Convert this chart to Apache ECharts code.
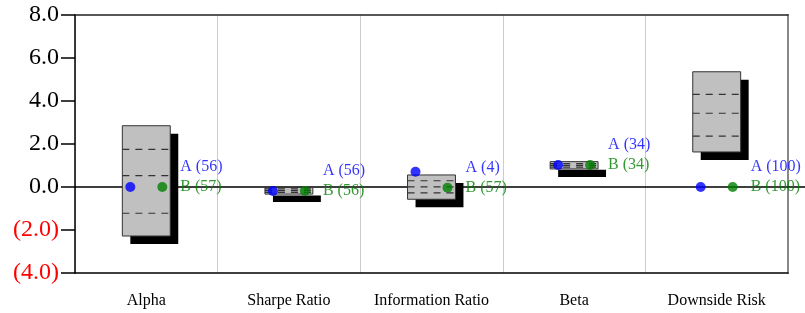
<!DOCTYPE html>
<html>
<head>
<meta charset="utf-8">
<script src="https://cdn.jsdelivr.net/npm/echarts@6/dist/echarts.min.js"></script>
<style>
  html, body { margin: 0; padding: 0; background: #fff; }
  #chart { width: 805px; height: 313px; }
</style>
</head>
<body>
<div id="chart"></div>
<script>
const categories = ['Alpha', 'Sharpe Ratio', 'Information Ratio', 'Beta', 'Downside Risk'];
// box: low, lower dash, middle dash, upper dash, high
const boxLow  = [-2.28, -0.33, -0.57, 0.84, 1.63];
const boxQ1   = [-1.22, -0.25, -0.27, 0.92, 2.37];
const boxMid  = [0.53, -0.17, 0.01, 1.01, 3.43];
const boxQ3   = [1.75, -0.09, 0.29, 1.09, 4.31];
const boxHigh = [2.85, -0.02, 0.56, 1.18, 5.36];
const pointA = [0.0, -0.19, 0.71, 1.02, 0.0];
const pointB = [0.0, -0.19, -0.03, 1.02, 0.0];
const countA = [56, 56, 4, 34, 100];
const countB = [57, 56, 57, 34, 100];
const yTicks = { min: -4, max: 8, interval: 2 };

const serif = 'Liberation Serif';
const chart = echarts.init(document.getElementById('chart'));

const boxData = categories.map((c, i) => [i, boxLow[i], boxQ1[i], boxMid[i], boxQ3[i], boxHigh[i]]);

function renderBox(params, api) {
  const c = api.value(0);
  const lo = api.coord([c, api.value(1)]);
  const hi = api.coord([c, api.value(5)]);
  const w = api.size([1, 0])[0] * 0.336;
  const x = lo[0] - w / 2;
  const top = hi[1], h = lo[1] - hi[1];
  const children = [
    {type: 'rect', shape: {x: x + 8, y: top + 8, width: w, height: h}, style: {fill: '#000'}},
    {type: 'rect', shape: {x: x, y: top, width: w, height: h}, style: {fill: '#c0c0c0', stroke: '#333', lineWidth: 1}}
  ];
  [2, 3, 4].forEach(k => {
    const y = api.coord([c, api.value(k)])[1];
    children.push({type: 'line', shape: {x1: x, y1: y, x2: x + w, y2: y},
      style: {stroke: '#333', lineWidth: 1.2, lineDash: [7, 6]}});
  });
  return {type: 'group', children};
}

chart.setOption({
  backgroundColor: '#fff',
  animation: false,
  grid: [
    {left: 75, right: 17, top: 15, bottom: 40},
    {left: 75, right: 0, top: 15, bottom: 40}
  ],
  xAxis: [
    {
      type: 'category', data: categories, gridIndex: 0, boundaryGap: true,
      axisLine: {onZero: false, lineStyle: {color: '#000', width: 1.5}},
      axisTick: {interval: 0, length: 14, lineStyle: {color: '#000', width: 1.5}},
      axisLabel: {interval: 0, margin: 20, fontFamily: serif, fontSize: 16, color: '#000'},
      splitLine: {show: true, interval: 0, lineStyle: {color: '#ccc', width: 1}}
    },
    {
      type: 'category', data: categories, gridIndex: 0, position: 'top',
      axisLine: {onZero: false, lineStyle: {color: '#222', width: 1.5}},
      axisTick: {show: false}, axisLabel: {show: false}, splitLine: {show: false}
    },
    {
      type: 'value', gridIndex: 1, min: 0, max: 1,
      axisLine: {onZero: true, lineStyle: {color: '#000', width: 1.5}},
      axisTick: {show: false}, axisLabel: {show: false}, splitLine: {show: false}
    }
  ],
  yAxis: [
    {
      type: 'value', gridIndex: 0, min: yTicks.min, max: yTicks.max, interval: yTicks.interval,
      axisLine: {show: true, lineStyle: {color: '#000', width: 1.5}},
      axisTick: {show: true, length: 14, lineStyle: {color: '#000', width: 1.5}},
      axisLabel: {
        margin: 16, fontFamily: serif, fontSize: 24,
        color: v => (Number(v) < 0 ? '#ff0000' : '#000'),
        formatter: v => (v < 0 ? '(' + Math.abs(v).toFixed(1) + ')' : v.toFixed(1))
      },
      splitLine: {show: false}
    },
    {
      type: 'value', gridIndex: 0, position: 'right', min: yTicks.min, max: yTicks.max,
      axisLine: {show: true, lineStyle: {color: '#888', width: 2}},
      axisTick: {show: false}, axisLabel: {show: false}, splitLine: {show: false}
    },
    {
      type: 'value', gridIndex: 1, min: yTicks.min, max: yTicks.max, show: false
    }
  ],
  series: [
    {
      type: 'custom', xAxisIndex: 0, yAxisIndex: 0, z: 2,
      renderItem: renderBox, data: boxData
    },
    {
      type: 'scatter', name: 'A', xAxisIndex: 0, yAxisIndex: 0, z: 3,
      data: pointA, symbolSize: 10, symbolOffset: [-16, 0],
      itemStyle: {color: '#0000ff'}
    },
    {
      type: 'scatter', name: 'B', xAxisIndex: 0, yAxisIndex: 0, z: 3,
      data: pointB, symbolSize: 10, symbolOffset: [16, 0],
      itemStyle: {color: '#008000'},
      label: {
        show: true, position: 'right', distance: 13, offset: [0, -10],
        formatter: p => '{a|A (' + countA[p.dataIndex] + ')}\n{b|B (' + countB[p.dataIndex] + ')}',
        rich: {
          a: {color: '#0000ff', fontFamily: serif, fontSize: 16, lineHeight: 20},
          b: {color: '#008000', fontFamily: serif, fontSize: 16, lineHeight: 20}
        }
      }
    }
  ]
});
</script>
</body>
</html>
